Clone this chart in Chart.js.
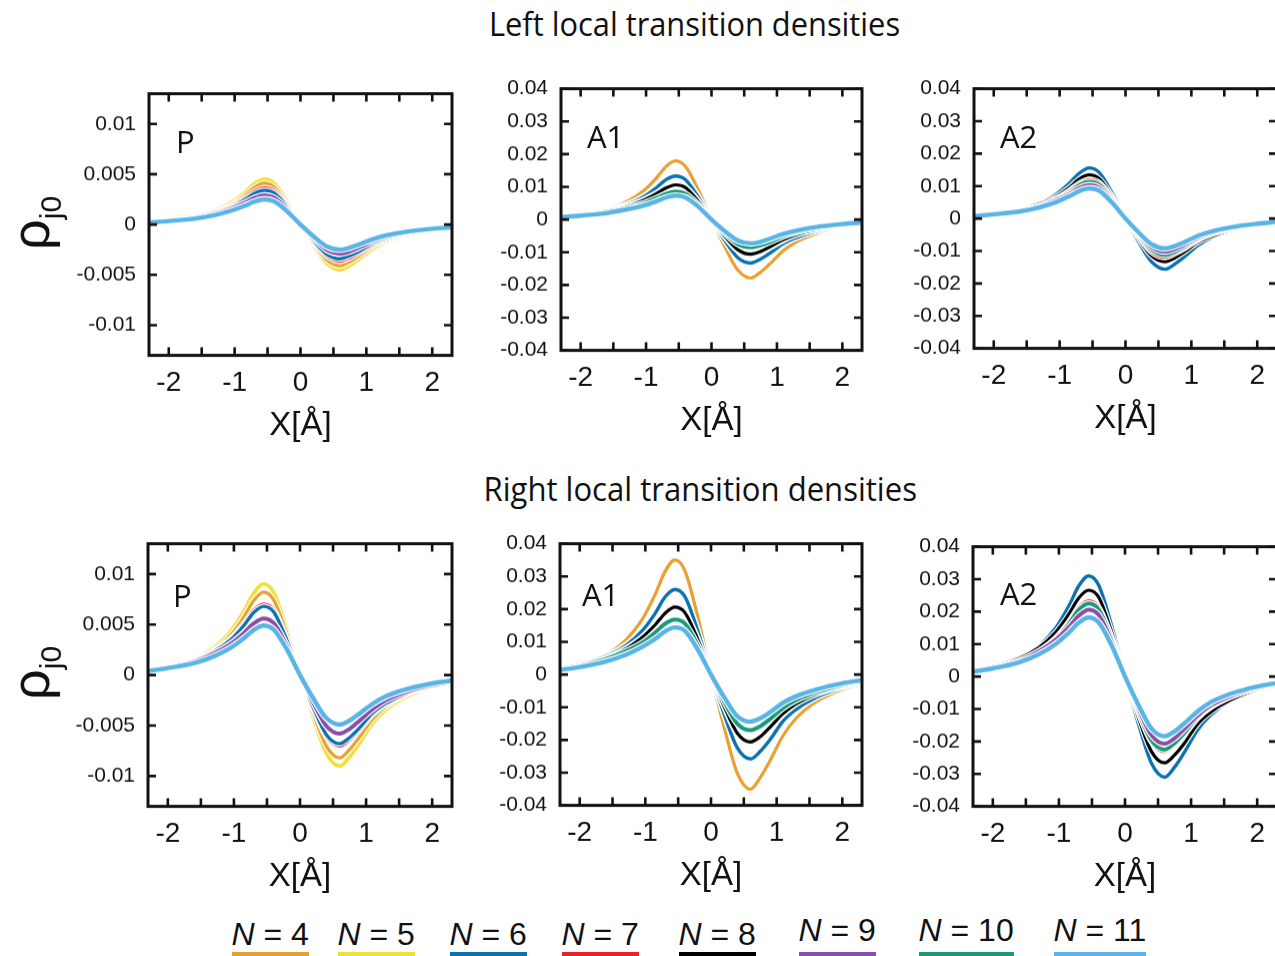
<!DOCTYPE html>
<html>
<head>
<meta charset="utf-8">
<script src="https://cdn.jsdelivr.net/npm/chart.js@4.4.1/dist/chart.umd.min.js"></script>
<style>
html, body { margin:0; padding:0; background:#fff; overflow:hidden; }
body { width:1275px; height:956px; position:relative; }
canvas { position:absolute; }
.title { position:absolute; white-space:nowrap; line-height:1; font-family:'Open Sans', sans-serif; font-size:32px; color:#111; transform-origin:center; }
.plab { position:absolute; white-space:nowrap; line-height:1; font-family:'Open Sans', sans-serif; font-size:31px; color:#111; }
.ylab { position:absolute; white-space:nowrap; line-height:1; font-family:'Liberation Sans', sans-serif; color:#111; transform-origin:center; }
.ylab .rho { font-size:54px; }
.ylab .sub { font-size:30px; position:relative; top:12px; }
.leg { position:absolute; white-space:nowrap; line-height:1; font-family:'Liberation Sans Narrow', 'Liberation Sans', sans-serif; font-size:32px; color:#111; }
.leg .bar { position:absolute; left:0; right:0; height:4px; }
</style>
</head>
<body>
<script>
// x grid of the sampled curves (Å)
const xVals = [-2.3, -2.0, -1.6, -1.3, -1.05, -0.85, -0.7, -0.55, -0.4, -0.2, 0, 0.2, 0.4, 0.6, 0.75, 0.9, 1.1, 1.3, 1.6, 2.0, 2.3];
const xTickLabels = [-2, -1, 0, 1, 2];
const legendN = [4, 5, 6, 7, 8, 9, 10, 11];

// Left local transition densities, P
const leftP_N4  = [0.00025, 0.00041, 0.0007, 0.00123, 0.00197, 0.00287, 0.00369, 0.0041, 0.00373, 0.00205, 0, -0.00189, -0.00353, -0.0041, -0.00369, -0.00308, -0.00217, -0.00156, -0.00098, -0.00053, -0.00033];
const leftP_N5  = [0.00027, 0.00045, 0.00077, 0.00135, 0.00216, 0.00315, 0.00405, 0.0045, 0.0041, 0.00225, 0, -0.00207, -0.00387, -0.0045, -0.00405, -0.00338, -0.00239, -0.00171, -0.00108, -0.00059, -0.00036];
const leftP_N6  = [0.00024, 0.00041, 0.00071, 0.00116, 0.00173, 0.00245, 0.00309, 0.0034, 0.00313, 0.00173, 0, -0.0016, -0.00296, -0.0034, -0.00309, -0.00262, -0.00187, -0.00139, -0.00092, -0.00051, -0.00031];
const leftP_N7  = [0.00025, 0.00043, 0.00076, 0.00122, 0.00184, 0.00259, 0.00328, 0.0036, 0.00331, 0.00184, 0, -0.00169, -0.00313, -0.0036, -0.00328, -0.00277, -0.00198, -0.00148, -0.00097, -0.00054, -0.00032];
const leftP_N9  = [0.00023, 0.00041, 0.0007, 0.0011, 0.0016, 0.00215, 0.00264, 0.0029, 0.00267, 0.00151, 0, -0.00136, -0.00252, -0.0029, -0.00267, -0.00226, -0.00168, -0.00125, -0.00084, -0.00049, -0.00032];
const leftP_N11 = [0.0002, 0.00035, 0.0006, 0.00095, 0.00138, 0.00185, 0.00228, 0.0025, 0.0023, 0.0013, 0, -0.00118, -0.00218, -0.0025, -0.0023, -0.00195, -0.00145, -0.00108, -0.00073, -0.00043, -0.00028];

// Left, A1
const leftA1_N4  = [0.0011, 0.0018, 0.003, 0.0054, 0.0086, 0.0125, 0.0161, 0.0179, 0.0163, 0.009, 0, -0.0082, -0.0154, -0.0179, -0.0161, -0.0134, -0.0095, -0.0068, -0.0043, -0.0023, -0.0014];
const leftA1_N5  = [0.0009, 0.0016, 0.0028, 0.0046, 0.0069, 0.0097, 0.0123, 0.0135, 0.0124, 0.0069, 0, -0.0063, -0.0117, -0.0135, -0.0123, -0.0104, -0.0074, -0.0055, -0.0036, -0.002, -0.0012];
const leftA1_N6  = [0.0009, 0.0016, 0.0028, 0.0045, 0.0068, 0.0096, 0.0121, 0.0133, 0.0122, 0.0068, 0, -0.0063, -0.0116, -0.0133, -0.0121, -0.0102, -0.0073, -0.0055, -0.0036, -0.002, -0.0012];
const leftA1_N7  = [0.00086, 0.0015, 0.0026, 0.0041, 0.0059, 0.008, 0.0098, 0.0108, 0.0099, 0.0056, 0, -0.0051, -0.0094, -0.0108, -0.0099, -0.0084, -0.0063, -0.0046, -0.0031, -0.0018, -0.0012];
const leftA1_N8  = [0.00085, 0.0015, 0.0025, 0.004, 0.0058, 0.0078, 0.0096, 0.0106, 0.0098, 0.0055, 0, -0.005, -0.0092, -0.0106, -0.0098, -0.0083, -0.0061, -0.0046, -0.0031, -0.0018, -0.0012];
const leftA1_N10 = [0.00085, 0.0014, 0.0024, 0.0036, 0.0049, 0.0065, 0.0078, 0.0085, 0.0079, 0.0045, 0, -0.0041, -0.0075, -0.0085, -0.0079, -0.0068, -0.0051, -0.0039, -0.0027, -0.0016, -0.001];
const leftA1_N11 = [0.0007, 0.0012, 0.002, 0.0031, 0.0042, 0.0055, 0.0067, 0.0073, 0.0068, 0.0039, 0, -0.0035, -0.0064, -0.0073, -0.0068, -0.0058, -0.0044, -0.0034, -0.0023, -0.0014, -0.0009];

// Left, A2
const leftA2_N6  = [0.0009, 0.0016, 0.0027, 0.0047, 0.0075, 0.0109, 0.014, 0.0156, 0.0142, 0.0078, 0, -0.0072, -0.0134, -0.0156, -0.014, -0.0117, -0.0083, -0.0059, -0.0037, -0.002, -0.0012];
const leftA2_N7  = [0.0008, 0.0014, 0.0025, 0.004, 0.0061, 0.0086, 0.0108, 0.0119, 0.011, 0.0061, 0, -0.0055, -0.0103, -0.0118, -0.0107, -0.0091, -0.0065, -0.0048, -0.0032, -0.0018, -0.0011];
const leftA2_N8  = [0.0009, 0.0016, 0.0028, 0.0046, 0.0068, 0.0096, 0.0122, 0.0134, 0.0123, 0.0068, 0, -0.0063, -0.0116, -0.0133, -0.0121, -0.0102, -0.0073, -0.0055, -0.0036, -0.002, -0.0012];
const leftA2_N9  = [0.0008, 0.0014, 0.0025, 0.0039, 0.0057, 0.0076, 0.0094, 0.0103, 0.0095, 0.0054, 0, -0.0048, -0.0089, -0.0102, -0.0094, -0.008, -0.0059, -0.0044, -0.003, -0.0017, -0.0011];
const leftA2_N10 = [0.0008, 0.0014, 0.0024, 0.0038, 0.0058, 0.0081, 0.0103, 0.0113, 0.0104, 0.0058, 0, -0.0053, -0.0097, -0.0112, -0.0102, -0.0086, -0.0062, -0.0046, -0.003, -0.0017, -0.001];
const leftA2_N11 = [0.0007, 0.0013, 0.0022, 0.0035, 0.0051, 0.0069, 0.0085, 0.0093, 0.0086, 0.0048, 0, -0.0043, -0.008, -0.0092, -0.0085, -0.0072, -0.0053, -0.004, -0.0027, -0.0016, -0.001];

// Right local transition densities, P
const rightP_N4  = [0.00049, 0.00082, 0.00139, 0.00246, 0.00394, 0.00574, 0.00738, 0.0082, 0.00746, 0.0041, 0, -0.00377, -0.00705, -0.0082, -0.00738, -0.00615, -0.00435, -0.00312, -0.00197, -0.00107, -0.00066];
const rightP_N5  = [0.00054, 0.0009, 0.00153, 0.0027, 0.00432, 0.0063, 0.0081, 0.009, 0.00819, 0.0045, 0, -0.00414, -0.00774, -0.009, -0.0081, -0.00675, -0.00477, -0.00342, -0.00216, -0.00117, -0.00072];
const rightP_N6  = [0.00048, 0.00082, 0.00143, 0.00231, 0.00347, 0.0049, 0.00619, 0.0068, 0.00626, 0.00347, 0, -0.0032, -0.00592, -0.0068, -0.00619, -0.00524, -0.00374, -0.00279, -0.00184, -0.00102, -0.00061];
const rightP_N7  = [0.00049, 0.00084, 0.00147, 0.00238, 0.00357, 0.00504, 0.00637, 0.007, 0.00644, 0.00357, 0, -0.00329, -0.00609, -0.007, -0.00637, -0.00539, -0.00385, -0.00287, -0.00189, -0.00105, -0.00063];
const rightP_N8  = [0.00046, 0.0008, 0.00137, 0.00217, 0.00314, 0.00422, 0.00519, 0.0057, 0.00524, 0.00296, 0, -0.00268, -0.00496, -0.0057, -0.00524, -0.00445, -0.00331, -0.00245, -0.00165, -0.00097, -0.00063];
const rightP_N9  = [0.00045, 0.00078, 0.00134, 0.00213, 0.00308, 0.00414, 0.0051, 0.0056, 0.00515, 0.00291, 0, -0.00273, -0.00505, -0.0058, -0.00534, -0.00452, -0.00336, -0.00249, -0.00168, -0.00099, -0.00064];
const rightP_N11 = [0.00039, 0.00069, 0.00118, 0.00186, 0.0027, 0.00363, 0.00446, 0.0049, 0.00451, 0.00255, 0, -0.0023, -0.00426, -0.0049, -0.00451, -0.00382, -0.00284, -0.00211, -0.00142, -0.00083, -0.00054];

// Right, A1
const rightA1_N4  = [0.0021, 0.0035, 0.006, 0.0105, 0.0168, 0.0245, 0.0315, 0.035, 0.0319, 0.0175, 0, -0.0161, -0.0301, -0.035, -0.0315, -0.0263, -0.0186, -0.0133, -0.0084, -0.0046, -0.0028];
const rightA1_N5  = [0.0018, 0.0031, 0.0055, 0.0089, 0.0134, 0.0189, 0.0238, 0.0262, 0.0241, 0.0134, 0, -0.0122, -0.0226, -0.026, -0.0237, -0.02, -0.0143, -0.0107, -0.007, -0.0039, -0.0023];
const rightA1_N6  = [0.0018, 0.0031, 0.0055, 0.0088, 0.0133, 0.0187, 0.0237, 0.026, 0.0239, 0.0133, 0, -0.0121, -0.0224, -0.0258, -0.0235, -0.0199, -0.0142, -0.0106, -0.007, -0.0039, -0.0023];
const rightA1_N7  = [0.0017, 0.0029, 0.005, 0.0079, 0.0114, 0.0154, 0.0189, 0.0208, 0.0191, 0.0108, 0, -0.0098, -0.0181, -0.0208, -0.0191, -0.0162, -0.0121, -0.0089, -0.006, -0.0035, -0.0023];
const rightA1_N8  = [0.0016, 0.0029, 0.0049, 0.0078, 0.0113, 0.0152, 0.0187, 0.0206, 0.019, 0.0107, 0, -0.0097, -0.0179, -0.0206, -0.019, -0.0161, -0.0119, -0.0089, -0.006, -0.0035, -0.0023];
const rightA1_N10 = [0.0017, 0.0027, 0.0047, 0.0071, 0.0097, 0.0128, 0.0155, 0.0168, 0.0156, 0.0089, 0, -0.0082, -0.015, -0.017, -0.0158, -0.0136, -0.0102, -0.0078, -0.0054, -0.0032, -0.002];
const rightA1_N11 = [0.0014, 0.0023, 0.004, 0.006, 0.0084, 0.0109, 0.0132, 0.0144, 0.0134, 0.0076, 0, -0.0069, -0.0127, -0.0144, -0.0134, -0.0115, -0.0086, -0.0066, -0.0046, -0.0027, -0.0017];

// Right, A2
const rightA2_N6  = [0.0019, 0.0031, 0.0053, 0.0093, 0.0149, 0.0217, 0.0279, 0.031, 0.0282, 0.0155, 0, -0.0143, -0.0267, -0.031, -0.0279, -0.0233, -0.0164, -0.0118, -0.0074, -0.004, -0.0025];
const rightA2_N7  = [0.0016, 0.0028, 0.0049, 0.0079, 0.0118, 0.0167, 0.0211, 0.0232, 0.0213, 0.0118, 0, -0.0108, -0.02, -0.023, -0.0209, -0.0177, -0.0127, -0.0094, -0.0062, -0.0035, -0.0021];
const rightA2_N8  = [0.0019, 0.0032, 0.0056, 0.009, 0.0136, 0.0192, 0.0242, 0.0266, 0.0245, 0.0136, 0, -0.0125, -0.0231, -0.0266, -0.0242, -0.0205, -0.0146, -0.0109, -0.0072, -0.004, -0.0024];
const rightA2_N9  = [0.0016, 0.0029, 0.0049, 0.0078, 0.0113, 0.0152, 0.0187, 0.0206, 0.019, 0.0107, 0, -0.0097, -0.018, -0.0207, -0.019, -0.0161, -0.012, -0.0089, -0.006, -0.0035, -0.0023];
const rightA2_N10 = [0.0016, 0.0027, 0.0047, 0.0077, 0.0115, 0.0162, 0.0205, 0.0225, 0.0207, 0.0115, 0, -0.0106, -0.0196, -0.0225, -0.0205, -0.0173, -0.0124, -0.0092, -0.0061, -0.0034, -0.002];
const rightA2_N11 = [0.0015, 0.0025, 0.0044, 0.0069, 0.01, 0.0135, 0.0166, 0.0182, 0.0167, 0.0095, 0, -0.0086, -0.016, -0.0184, -0.0169, -0.0144, -0.0107, -0.0079, -0.0053, -0.0031, -0.002];

// styles
const colors = { 4:'#E8A030', 5:'#EEE23A', 6:'#0A72B0', 7:'#E8232A', 8:'#000000', 9:'#8A4EA6', 10:'#1A9A78', 11:'#5AB4E5' };
const widths = { 4:3.2, 5:3.8, 6:3.4, 7:3.8, 8:3.2, 9:4, 10:4, 11:4.4 };

// panels: box = plot frame in page pixels; curves listed bottom-to-top
const panels = [
  { label:'P',  lx:176, ly:126, box:{l:149, t:94,  r:452,  b:355}, ymin:-0.013, ymax:0.013, step:0.005, rho:true,
    curves:[[5,leftP_N5],[4,leftP_N4],[7,leftP_N7],[6,leftP_N6],[9,leftP_N9],[11,leftP_N11]] },
  { label:'A1', lx:587, ly:121, box:{l:561, t:89,  r:862,  b:350}, ymin:-0.04, ymax:0.04, step:0.01,
    curves:[[4,leftA1_N4],[5,leftA1_N5],[6,leftA1_N6],[7,leftA1_N7],[8,leftA1_N8],[10,leftA1_N10],[11,leftA1_N11]] },
  { label:'A2', lx:1000, ly:121, box:{l:974, t:89, r:1277, b:348}, ymin:-0.04, ymax:0.04, step:0.01,
    curves:[[6,leftA2_N6],[8,leftA2_N8],[7,leftA2_N7],[10,leftA2_N10],[9,leftA2_N9],[11,leftA2_N11]] },
  { label:'P',  lx:173, ly:580, box:{l:148, t:544, r:452,  b:806}, ymin:-0.013, ymax:0.013, step:0.005, rho:true,
    curves:[[5,rightP_N5],[4,rightP_N4],[7,rightP_N7],[6,rightP_N6],[8,rightP_N8],[9,rightP_N9],[11,rightP_N11]] },
  { label:'A1', lx:582, ly:579, box:{l:560, t:544, r:862,  b:805}, ymin:-0.04, ymax:0.04, step:0.01,
    curves:[[4,rightA1_N4],[5,rightA1_N5],[6,rightA1_N6],[7,rightA1_N7],[8,rightA1_N8],[10,rightA1_N10],[11,rightA1_N11]] },
  { label:'A2', lx:1000, ly:578, box:{l:973, t:547, r:1277, b:806}, ymin:-0.04, ymax:0.04, step:0.01,
    curves:[[6,rightA2_N6],[8,rightA2_N8],[7,rightA2_N7],[10,rightA2_N10],[9,rightA2_N9],[11,rightA2_N11]] }
];

const YW = 110, PT = 15, PR = 15, XH = 95;

// frame with inward ticks on all four sides
const framePlugin = {
  id: 'frame',
  afterDraw(chart) {
    const { ctx, chartArea: a, scales: { x, y } } = chart;
    const tl = 8;
    ctx.save();
    ctx.strokeStyle = '#111';
    ctx.lineWidth = 2.6;
    ctx.beginPath();
    x.ticks.forEach(t => {
      const px = x.getPixelForValue(t.value);
      ctx.moveTo(px, a.bottom); ctx.lineTo(px, a.bottom - tl);
      ctx.moveTo(px, a.top); ctx.lineTo(px, a.top + tl);
    });
    y.ticks.forEach(t => {
      const py = y.getPixelForValue(t.value);
      ctx.moveTo(a.left, py); ctx.lineTo(a.left + tl, py);
      ctx.moveTo(a.right, py); ctx.lineTo(a.right - tl, py);
    });
    ctx.stroke();
    ctx.lineWidth = 3;
    ctx.strokeRect(a.left, a.top, a.right - a.left, a.bottom - a.top);
    ctx.restore();
  }
};

const fmt = v => String(parseFloat(Number(v).toFixed(4)));

panels.forEach(p => {
  const w = p.box.r - p.box.l, h = p.box.b - p.box.t;
  const cv = document.createElement('canvas');
  cv.width = YW + w + PR; cv.height = PT + h + XH;
  document.body.appendChild(cv);

  const n = p.curves.length;
  const datasets = [];
  p.curves.forEach(([N, vals], i) => {
    const pts = xVals.map((x, k) => ({ x, y: vals[k] }));
    datasets.push({ data: pts, borderColor: '#ffffff', borderWidth: widths[N] + 2.4, order: 2 * (n - i) + 1 });
    datasets.push({ label: 'N = ' + N, data: pts, borderColor: colors[N], borderWidth: widths[N], order: 2 * (n - i) });
  });

  const chart = new Chart(cv, {
    type: 'line',
    data: { datasets },
    options: {
      responsive: false, maintainAspectRatio: false, animation: false, devicePixelRatio: 1,
      layout: { padding: { top: PT, right: PR, left: 0, bottom: 0 } },
      plugins: { legend: { display: false }, tooltip: { enabled: false } },
      elements: { point: { radius: 0 }, line: { cubicInterpolationMode: 'monotone', borderJoinStyle: 'round' } },
      scales: {
        x: {
          type: 'linear', min: -2.3, max: 2.3,
          afterFit(s) { s.height = XH; },
          grid: { display: false, drawTicks: false }, border: { display: false },
          ticks: { stepSize: 0.5, includeBounds: false, autoSkip: false, maxRotation: 0, padding: 11,
                   color: '#111', font: { family: 'Liberation Sans', size: 28 },
                   callback: v => xTickLabels.includes(v) ? String(v) : '' },
          title: { display: true, text: 'X[Å]', color: '#111', font: { family: 'Liberation Sans', size: 33 }, padding: { top: 0, bottom: 5 } }
        },
        y: {
          type: 'linear', min: p.ymin, max: p.ymax,
          afterFit(s) { s.width = YW; },
          grid: { display: false, drawTicks: false }, border: { display: false },
          ticks: { stepSize: p.step, includeBounds: false, autoSkip: false, padding: 13,
                   color: '#111', font: { family: 'Liberation Sans', size: 21 },
                   callback: v => fmt(v) }
        }
      }
    },
    plugins: [framePlugin]
  });

  // grow the canvas until the plot area has the frame size, then line it up
  for (let k = 0; k < 3; k++) {
    const ca = chart.chartArea;
    const dw = w - (ca.right - ca.left), dh = h - (ca.bottom - ca.top);
    if (Math.abs(dw) < 0.5 && Math.abs(dh) < 0.5) break;
    chart.resize(cv.width + dw, cv.height + dh);
  }
  const ca = chart.chartArea;
  cv.style.left = (p.box.l - ca.left) + 'px';
  cv.style.top = (p.box.t - ca.top) + 'px';

  const lab = document.createElement('div');
  lab.className = 'plab';
  lab.textContent = p.label;
  lab.style.left = p.lx + 'px';
  lab.style.top = p.ly + 'px';
  document.body.appendChild(lab);

  if (p.rho) {
    const r = document.createElement('div');
    r.className = 'ylab';
    r.innerHTML = '<span class="rho">ρ</span><span class="sub">j0</span>';
    document.body.appendChild(r);
    const cy = (p.box.t + p.box.b) / 2 - 2;
    r.style.left = (30 - r.offsetWidth / 2) + 'px';
    r.style.top = (cy - r.offsetHeight / 2) + 'px';
    r.style.transform = 'rotate(-90deg)';
  }
});

// row titles, squeezed to the width they take in the figure
function placeTitle(txt, cx, cy, targetW) {
  const d = document.createElement('div');
  d.className = 'title';
  d.textContent = txt;
  document.body.appendChild(d);
  const nw = d.offsetWidth, nh = d.offsetHeight;
  d.style.left = (cx - nw / 2) + 'px';
  d.style.top = (cy - nh / 2) + 'px';
  d.style.transform = 'scaleX(' + (targetW / nw) + ')';
}
placeTitle('Left local transition densities', 694, 24, 411);
placeTitle('Right local transition densities', 700, 489, 433);

// legend
const legCenters = [270, 376, 488, 600, 717, 837, 966, 1100];
const legTops = [918, 918, 918, 918, 918, 914, 914, 914];
legendN.forEach((N, i) => {
  const d = document.createElement('div');
  d.className = 'leg';
  d.innerHTML = '<i>N</i> = ' + N + '<div class="bar" style="background:' + colors[N] + ';top:' + (952 - legTops[i]) + 'px"></div>';
  document.body.appendChild(d);
  d.style.left = (legCenters[i] - d.offsetWidth / 2) + 'px';
  d.style.top = legTops[i] + 'px';
});
</script>
</body>
</html>
